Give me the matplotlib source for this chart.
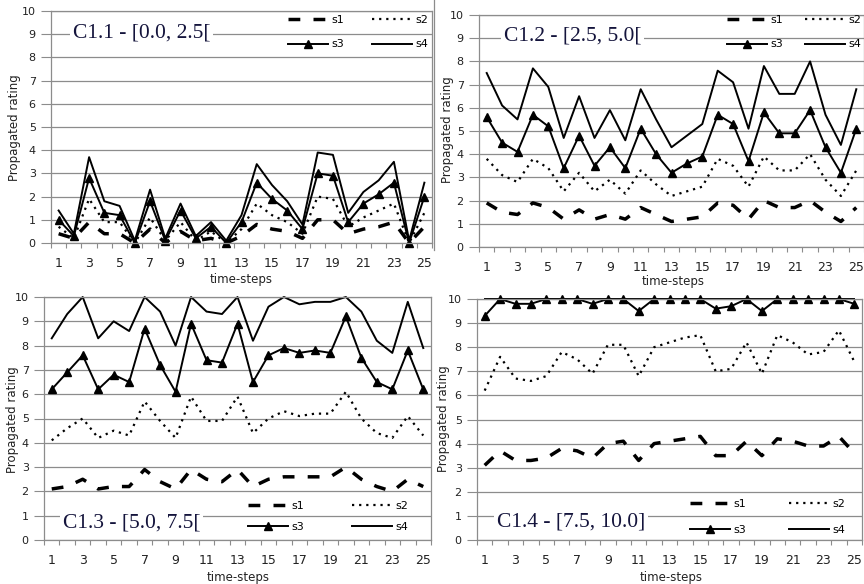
import matplotlib
matplotlib.use("Agg")
import matplotlib.pyplot as plt
from matplotlib.lines import Line2D

# time-steps on the x axis
steps = list(range(1, 26))

# C1.1 - [0.0, 2.5[
c11_s1 = [0.4, 0.2, 0.9, 0.4, 0.4, 0.0, 0.6, 0.0, 0.5, 0.1, 0.2, 0.0, 0.3,
          0.8, 0.6, 0.5, 0.2, 1.0, 1.0, 0.4, 0.6, 0.7, 0.9, 0.0, 0.7]
c11_s2 = [0.7, 0.2, 1.9, 0.9, 0.9, 0.0, 1.1, 0.1, 0.9, 0.1, 0.5, 0.0, 0.6,
          1.7, 1.2, 0.9, 0.4, 2.0, 1.9, 0.7, 1.1, 1.4, 1.7, 0.0, 1.3]
c11_s3 = [1.0, 0.3, 2.8, 1.3, 1.2, 0.0, 1.8, 0.1, 1.4, 0.2, 0.7, 0.0, 0.9,
          2.6, 1.9, 1.4, 0.6, 3.0, 2.9, 0.9, 1.7, 2.1, 2.6, 0.0, 2.0]
c11_s4 = [1.4, 0.4, 3.7, 1.8, 1.6, 0.1, 2.3, 0.2, 1.7, 0.3, 0.9, 0.1, 1.2,
          3.4, 2.5, 1.8, 0.8, 3.9, 3.8, 1.3, 2.2, 2.7, 3.5, 0.1, 2.6]

# C1.2 - [2.5, 5.0[
c12_s1 = [1.9, 1.5, 1.4, 1.9, 1.7, 1.2, 1.6, 1.2, 1.4, 1.2, 1.7, 1.4, 1.1,
          1.2, 1.3, 1.9, 1.8, 1.2, 2.0, 1.7, 1.7, 2.0, 1.5, 1.1, 1.7]
c12_s2 = [3.8, 3.1, 2.8, 3.8, 3.4, 2.4, 3.2, 2.4, 2.9, 2.3, 3.3, 2.7, 2.2,
          2.4, 2.6, 3.8, 3.5, 2.6, 3.9, 3.3, 3.3, 4.0, 2.9, 2.2, 3.3]
c12_s3 = [5.6, 4.5, 4.1, 5.7, 5.2, 3.4, 4.8, 3.5, 4.3, 3.4, 5.1, 4.0, 3.2,
          3.6, 3.9, 5.7, 5.3, 3.7, 5.8, 4.9, 4.9, 5.9, 4.3, 3.2, 5.1]
c12_s4 = [7.5, 6.1, 5.5, 7.7, 6.9, 4.7, 6.5, 4.7, 5.9, 4.6, 6.8, 5.5, 4.3,
          4.8, 5.3, 7.6, 7.1, 5.1, 7.8, 6.6, 6.6, 8.0, 5.7, 4.4, 6.8]

# C1.3 - [5.0, 7.5[
c13_s1 = [2.1, 2.2, 2.5, 2.1, 2.2, 2.2, 2.9, 2.4, 2.1, 2.9, 2.5, 2.4, 2.9,
          2.2, 2.5, 2.6, 2.6, 2.6, 2.6, 3.0, 2.5, 2.2, 2.0, 2.5, 2.2]
c13_s2 = [4.1, 4.6, 5.0, 4.2, 4.5, 4.3, 5.7, 4.9, 4.2, 5.9, 4.9, 4.9, 5.9,
          4.4, 5.0, 5.3, 5.1, 5.2, 5.2, 6.1, 5.0, 4.4, 4.2, 5.1, 4.3]
c13_s3 = [6.2, 6.9, 7.6, 6.2, 6.8, 6.5, 8.7, 7.2, 6.1, 8.9, 7.4, 7.3, 8.9,
          6.5, 7.6, 7.9, 7.7, 7.8, 7.7, 9.2, 7.5, 6.5, 6.2, 7.8, 6.2]
c13_s4 = [8.3, 9.3, 10.0, 8.3, 9.0, 8.6, 10.0, 9.4, 8.0, 10.0, 9.4, 9.3, 10.0,
          8.2, 9.6, 10.0, 9.7, 9.8, 9.8, 10.0, 9.4, 8.2, 7.7, 9.8, 7.9]

# C1.4 - [7.5, 10.0]
c14_s1 = [3.1, 3.7, 3.3, 3.3, 3.4, 3.8, 3.7, 3.4, 4.0, 4.1, 3.3, 4.0, 4.1,
          4.2, 4.3, 3.5, 3.5, 4.1, 3.5, 4.2, 4.1, 3.9, 3.9, 4.3, 3.6]
c14_s2 = [6.2, 7.6, 6.7, 6.6, 6.8, 7.8, 7.5, 6.9, 8.1, 8.1, 6.8, 8.0, 8.2,
          8.4, 8.5, 7.0, 7.1, 8.2, 6.9, 8.5, 8.2, 7.7, 7.8, 8.7, 7.4]
c14_s3 = [9.3, 10.0, 9.8, 9.8, 10.0, 10.0, 10.0, 9.8, 10.0, 10.0, 9.5, 10.0, 10.0,
          10.0, 10.0, 9.6, 9.7, 10.0, 9.5, 10.0, 10.0, 10.0, 10.0, 10.0, 9.8]
c14_s4 = [10.0] * 25

titles = ["C1.1 - [0.0, 2.5[", "C1.2 - [2.5, 5.0[",
          "C1.3 - [5.0, 7.5[", "C1.4 - [7.5, 10.0]"]

W, H = 864, 584
GRAY = "#8c8c8c"

fig = plt.figure(figsize=(W / 100, H / 100), dpi=100)


def fx(x):
    return x / W


def fy(y):
    return 1 - y / H


def make_axes(left, top, right, bottom, xmax, xpad):
    ax = fig.add_axes([fx(left), fy(bottom), (right - left) / W, (bottom - top) / H])
    ax.set_xlim(0.5, xmax)
    ax.set_ylim(0, 10)
    ax.set_yticks(range(0, 11))
    ax.set_xticks(range(1, 26, 2))
    ax.set_xticks([i + 0.5 for i in range(0, 26)], minor=True)
    ax.tick_params(axis="x", which="major", length=0, labelsize=9, pad=xpad,
                   labelcolor="#222222")
    ax.tick_params(axis="x", which="minor", length=3.5, color=GRAY, width=0.8)
    ax.tick_params(axis="y", length=7, color=GRAY, width=0.8, labelsize=8,
                   pad=4, labelcolor="#222222")
    ax.yaxis.grid(True, color=GRAY, lw=0.9)
    ax.set_axisbelow(True)
    for sp in ax.spines.values():
        sp.set_color(GRAY)
        sp.set_linewidth(0.9)
    return ax


def draw(ax, s1, s2, s3, s4):
    h1, = ax.plot(steps, s1, color="black", lw=2.5, ls=(0, (3.4, 3.8)),
                  clip_on=False)
    h2, = ax.plot(steps, s2, color="black", lw=1.6, ls=(0, (1, 2.2)),
                  clip_on=False)
    h3, = ax.plot(steps, s3, color="black", lw=1.4, marker="^", ms=5.5,
                  clip_on=False)
    h4, = ax.plot(steps, s4, color="black", lw=1.4, clip_on=False)
    return [h1, h3, h2, h4]


def legend(ax, handles, x, y, colsp, labsp):
    ax.legend(handles, ["s1", "s3", "s2", "s4"], ncol=2, frameon=False,
              loc="upper left", bbox_to_anchor=(fx(x), fy(y)),
              bbox_transform=fig.transFigure, borderpad=0, borderaxespad=0,
              handlelength=3.6, handletextpad=0.3, columnspacing=colsp,
              labelspacing=labsp, fontsize=8)


def title(text, x, y):
    fig.text(fx(x), fy(y), text, ha="left", va="center", fontsize=15.5,
             family="Liberation Serif", color="#14143c",
             bbox=dict(facecolor="white", edgecolor="none", pad=2))


def labels(xl, yl):
    fig.text(fx(xl[0]), fy(xl[1]), "time-steps", ha="center", va="center",
             fontsize=8.5, color="#222222")
    fig.text(fx(yl[0]), fy(yl[1]), "Propagated rating", ha="center",
             va="center", rotation=90, fontsize=8.5, color="#222222")


# panel 1
ax1 = make_axes(51, 11, 432, 243, 25.08, 10)
hs = draw(ax1, c11_s1, c11_s2, c11_s3, c11_s4)
legend(ax1, hs, 288, 15, 2.5, 1.3)
title(titles[0], 73, 33)
labels((241, 280), (15, 128))

# panel 2
ax2 = make_axes(479, 15, 864, 247, 25.2, 10)
hs = draw(ax2, c12_s1, c12_s2, c12_s3, c12_s4)
legend(ax2, hs, 727, 15, 2.0, 1.3)
title(titles[1], 504, 36)
labels((673, 281), (447, 130))

# panel 3
ax3 = make_axes(44, 297, 431, 540, 25.5, 10)
hs = draw(ax3, c13_s1, c13_s2, c13_s3, c13_s4)
legend(ax3, hs, 248, 501, 4.3, 1.0)
title(titles[2], 63, 523)
labels((238, 578), (13, 420))

# panel 4
ax4 = make_axes(477, 299, 862, 540, 25.5, 10)
hs = draw(ax4, c14_s1, c14_s2, c14_s3, c14_s4)
legend(ax4, hs, 690, 499, 3.9, 1.4)
title(titles[3], 497, 522)
labels((671, 577), (444, 419))

# border of the first chart's area
fig.add_artist(Line2D([fx(434), fx(434)], [fy(0), fy(250)], color=GRAY,
                      lw=0.9, transform=fig.transFigure))

fig.savefig("out.png", dpi=100)
